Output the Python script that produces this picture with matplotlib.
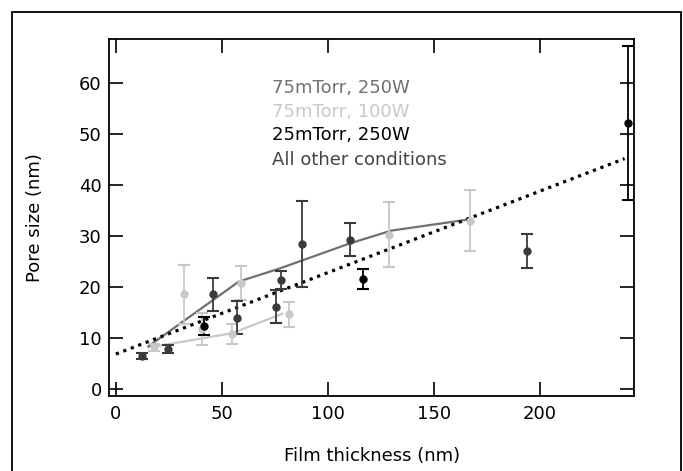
import matplotlib
matplotlib.use('Agg')
import matplotlib.pyplot as plt
from matplotlib.patches import Rectangle

plt.rcParams['font.family'] = ['DejaVu Sans']
plt.rcParams['font.size'] = 13

# 75mTorr, 250W trend line
line250_x = [15.3, 58.0, 77.5, 110.5, 130.0, 167.0]
line250_y = [8.4, 21.1, 23.7, 28.6, 31.1, 33.3]

# 75mTorr, 100W trend line
line100_x = [15.8, 41.0, 55.0, 78.5]
line100_y = [8.2, 10.0, 11.0, 14.8]

# light grey points (75mTorr, 100W)
light_x = [18.2, 32.2, 40.5, 54.6, 58.9, 81.9, 128.7, 167.1]
light_y = [8.2, 18.6, 11.8, 10.8, 20.8, 14.7, 30.3, 33.0]
light_err = [0.7, 5.8, 3.1, 2.0, 3.4, 2.4, 6.4, 6.0]

# dark grey points (all other conditions)
dark_x = [12.5, 24.5, 46.0, 57.0, 75.6, 77.8, 87.7, 110.5, 194.1]
dark_y = [6.5, 7.9, 18.6, 14.0, 16.2, 21.4, 28.4, 29.3, 27.1]
dark_err = [0.6, 0.7, 3.2, 3.2, 3.25, 1.8, 8.45, 3.25, 3.25]

# black points (25mTorr, 250W)
black_x = [41.5, 116.5, 241.4]
black_y = [12.4, 21.6, 52.2]
black_err = [1.7, 2.0, 15.1]

# linear fit
fit_x = [0, 240]
fit_y = [6.9, 45.2]

legend_labels = ['75mTorr, 250W', '75mTorr, 100W', '25mTorr, 250W', 'All other conditions']

c_mid = '#707070'
c_light = '#c8c8c8'
c_dark = '#3a3a3a'
c_black = '#000000'

fig = plt.figure(figsize=(6.83, 4.71), dpi=100)
ax = fig.add_axes([0.160, 0.160, 0.7687, 0.7567])

ax.plot(line100_x, line100_y, color=c_light, lw=1.6, zorder=2)
ax.plot(line250_x, line250_y, color=c_mid, lw=1.6, zorder=2)
ax.plot(fit_x, fit_y, color='black', lw=2.3, linestyle=(0, (1, 1.5)), zorder=3)

for xs, ys, es, col in [(light_x, light_y, light_err, c_light),
                        (dark_x, dark_y, dark_err, c_dark),
                        (black_x, black_y, black_err, c_black)]:
    ax.errorbar(xs, ys, yerr=es, fmt='o', color=col, ms=5, elinewidth=1.3,
                capsize=4.5, capthick=1.5, zorder=4)

ax.set_xlim(-3.1, 244.6)
ax.set_ylim(-1.25, 68.6)
ax.set_xticks([0, 50, 100, 150, 200])
ax.set_yticks([0, 10, 20, 30, 40, 50, 60])
ax.tick_params(direction='in', length=10, width=1.2, top=True, right=True,
               labelsize=13)
ax.tick_params(axis='x', pad=7)
ax.tick_params(axis='y', pad=5.5)
for s in ax.spines.values():
    s.set_linewidth(1.3)

ax.set_xlabel('Film thickness (nm)', fontsize=13)
ax.set_ylabel('Pore size (nm)', fontsize=13)
ax.xaxis.set_label_coords(0.5, -0.143)
ax.yaxis.set_label_coords(-0.124, 0.5)

leg_colors = [c_mid, c_light, c_black, '#444444']
leg_y = [0.8625, 0.797, 0.7317, 0.661]
for lab, col, yy in zip(legend_labels, leg_colors, leg_y):
    ax.text(0.309, yy, lab, color=col, fontsize=13, ha='left', va='center',
            transform=ax.transAxes)

# outer frame around the figure
fig.patches.append(Rectangle((11.7 / 683, -0.1), (680.5 - 11.7) / 683,
                             1.1 - 11.7 / 471, transform=fig.transFigure,
                             fill=False, lw=1.3, edgecolor='black'))

fig.savefig('out.png', dpi=100)
